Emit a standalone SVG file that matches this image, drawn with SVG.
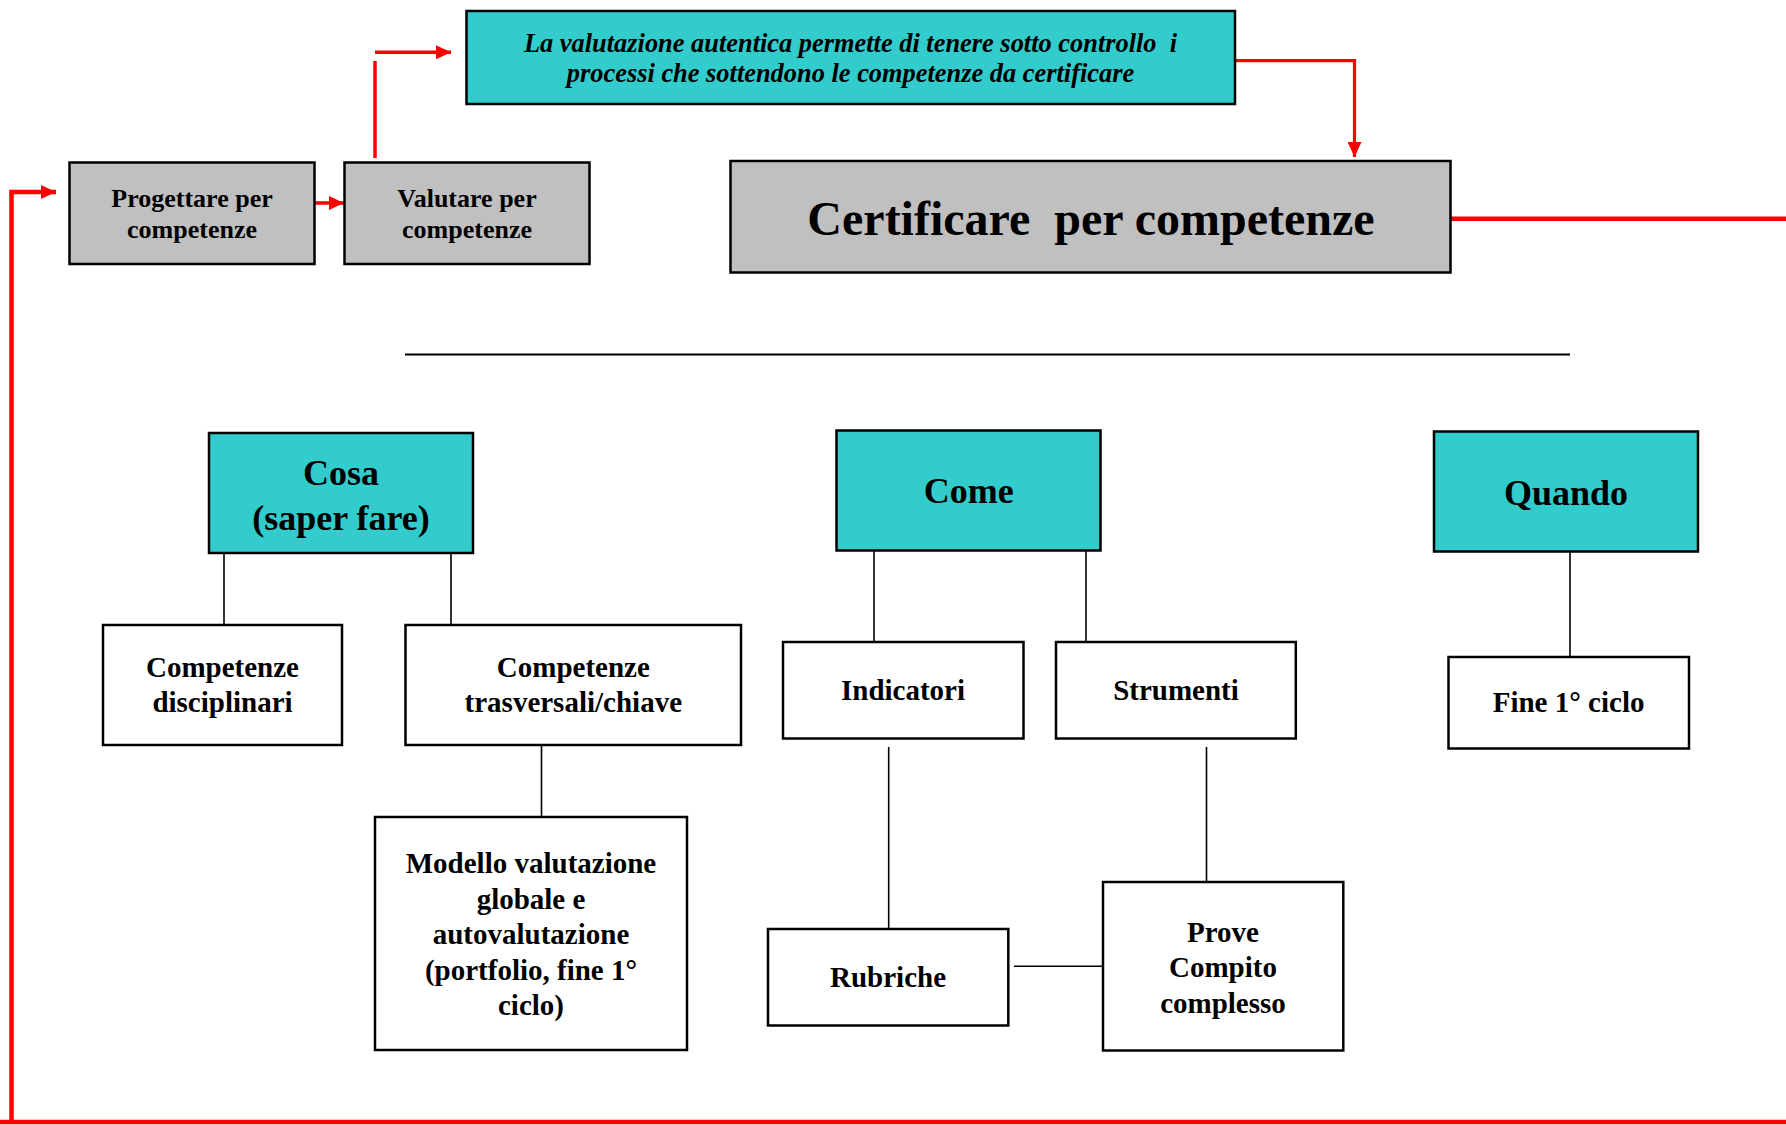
<svg xmlns="http://www.w3.org/2000/svg" width="1786" height="1125" viewBox="0 0 1786 1125">
<style>
.box{stroke:#000;stroke-width:2.5}
.teal{fill:#33CCCC}
.grey{fill:#C0C0C0}
.white{fill:#fff}
text{font-family:"Liberation Serif","Times New Roman",serif;font-weight:bold;fill:#000;text-anchor:middle}
.t29{font-size:29px}
.t26{font-size:26px}
.t36{font-size:36px}
.t48{font-size:48px;white-space:pre}
.it{font-style:italic;font-size:26.4px;white-space:pre}
.red{stroke:#FF0000;fill:none}
.blk{stroke:#000;stroke-width:1.6;fill:none}
</style>
<defs>
<marker id="ah" markerWidth="15" markerHeight="14" refX="15" refY="7" orient="auto" markerUnits="userSpaceOnUse">
<path d="M0,0 L15,7 L0,14 Z" fill="#FF0000"/>
</marker>
</defs>
<rect width="1786" height="1125" fill="#fff"/>

<g id="connectors">
<!-- red flow -->
<path class="red" stroke-width="4.5" d="M1451,218.7 H1786"/>
<path class="red" stroke-width="4.5" d="M0,1122 H1786"/>
<path class="red" stroke-width="4.5" d="M11.5,1124 V192 H56" marker-end="url(#ah)"/>
<path class="red" stroke-width="3.5" d="M315,203 H344" marker-end="url(#ah)"/>
<path class="red" stroke-width="3.5" d="M375,158 V61"/>
<path class="red" stroke-width="3.5" d="M375,52.3 H451" marker-end="url(#ah)"/>
<path class="red" stroke-width="3.2" d="M1236,60.7 H1354.5 V157" marker-end="url(#ah)"/>
<!-- separator -->
<line x1="405" y1="354.5" x2="1570" y2="354.5" stroke="#000" stroke-width="2"/>
<!-- black tree lines -->
<line class="blk" x1="224" y1="551" x2="224" y2="627"/>
<line class="blk" x1="451" y1="551" x2="451" y2="627"/>
<line class="blk" x1="541.5" y1="745" x2="541.5" y2="817"/>
<line class="blk" x1="874" y1="551" x2="874" y2="642"/>
<line class="blk" x1="1086" y1="551" x2="1086" y2="642"/>
<line class="blk" x1="888.7" y1="747" x2="888.7" y2="929"/>
<line class="blk" x1="1206.5" y1="747" x2="1206.5" y2="884"/>
<line class="blk" x1="1570" y1="552" x2="1570" y2="657"/>
<line class="blk" x1="1014" y1="966.3" x2="1111" y2="966.3"/>
</g>

<g id="n-valutazione">
<rect class="box teal" x="466.5" y="11" width="768.5" height="93"/>
<text class="it" x="850.5" y="51.5">La valutazione autentica permette di tenere sotto controllo  i</text>
<text class="it" x="850.5" y="82">processi che sottendono le competenze da certificare</text>
</g>

<g id="n-progettare">
<rect class="box grey" x="69.5" y="162.5" width="245" height="101.5"/>
<text class="t26" x="192" y="207">Progettare per</text>
<text class="t26" x="192" y="238">competenze</text>
</g>

<g id="n-valutare">
<rect class="box grey" x="344.5" y="162.5" width="245" height="101.5"/>
<text class="t26" x="467" y="207">Valutare per</text>
<text class="t26" x="467" y="238">competenze</text>
</g>

<g id="n-certificare">
<rect class="box grey" x="730.5" y="161" width="720" height="111.5"/>
<text class="t48" x="1091" y="235">Certificare  per competenze</text>
</g>

<g id="n-cosa">
<rect class="box teal" x="209" y="433" width="264" height="120"/>
<text class="t36" x="341" y="485">Cosa</text>
<text class="t36" x="341" y="530">(saper fare)</text>
</g>

<g id="n-come">
<rect class="box teal" x="836.5" y="430.5" width="264" height="120"/>
<text class="t36" x="968.7" y="503">Come</text>
</g>

<g id="n-quando">
<rect class="box teal" x="1434" y="431.5" width="264" height="120"/>
<text class="t36" x="1566" y="505">Quando</text>
</g>

<g id="n-disciplinari">
<rect class="box white" x="103" y="625" width="239" height="120"/>
<text class="t29" x="222.5" y="677">Competenze</text>
<text class="t29" x="222.5" y="712">disciplinari</text>
</g>

<g id="n-trasversali">
<rect class="box white" x="405.5" y="625" width="335.5" height="120"/>
<text class="t29" x="573.3" y="677">Competenze</text>
<text class="t29" x="573.3" y="712">trasversali/chiave</text>
</g>

<g id="n-modello">
<rect class="box white" x="375" y="817" width="312" height="233"/>
<text class="t29" x="531" y="873">Modello valutazione</text>
<text class="t29" x="531" y="908.5">globale e</text>
<text class="t29" x="531" y="944">autovalutazione</text>
<text class="t29" x="531" y="979.5">(portfolio, fine 1°</text>
<text class="t29" x="531" y="1015">ciclo)</text>
</g>

<g id="n-indicatori">
<rect class="box white" x="783" y="642" width="240.5" height="96.5"/>
<text class="t29" x="903" y="700">Indicatori</text>
</g>

<g id="n-strumenti">
<rect class="box white" x="1056" y="642" width="239.8" height="96.5"/>
<text class="t29" x="1176" y="700">Strumenti</text>
</g>

<g id="n-fine">
<rect class="box white" x="1448.5" y="657" width="240.5" height="91.5"/>
<text class="t29" x="1568.6" y="712">Fine 1° ciclo</text>
</g>

<g id="n-rubriche">
<rect class="box white" x="768" y="929" width="240.3" height="96.5"/>
<text class="t29" x="888" y="987">Rubriche</text>
</g>

<g id="n-prove">
<rect class="box white" x="1103" y="882" width="240.3" height="168.5"/>
<text class="t29" x="1223" y="942">Prove</text>
<text class="t29" x="1223" y="977">Compito</text>
<text class="t29" x="1223" y="1013">complesso</text>
</g>
</svg>
